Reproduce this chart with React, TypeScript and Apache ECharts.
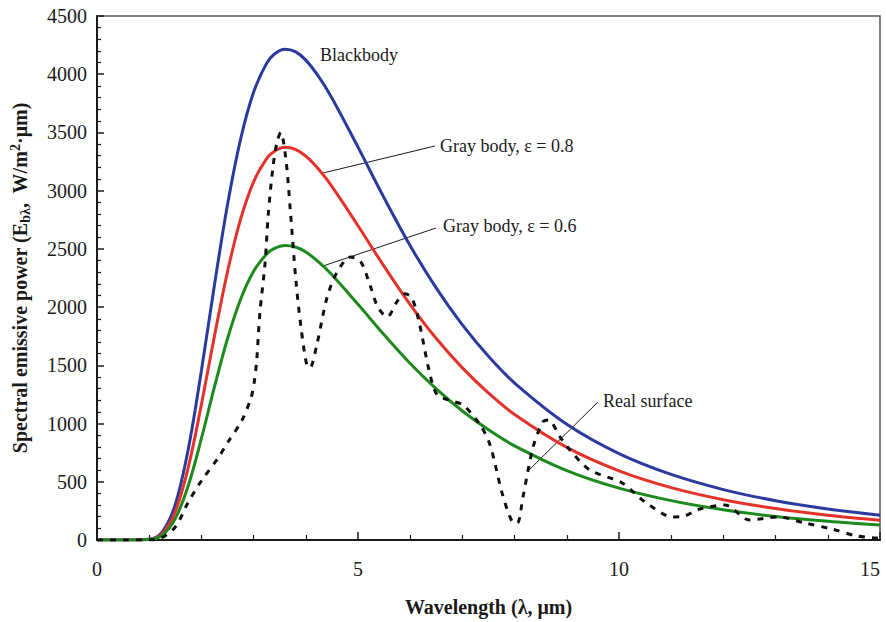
import React, { useEffect, useRef } from "react";
import * as echarts from "echarts";

// Wavelength grid (µm) for the smooth curves
const lambda = [0, 0.5, 1, 1.25, 1.5, 1.75, 2, 2.25, 2.5, 2.75, 3, 3.25, 3.4, 3.6, 3.8, 4, 4.25, 4.5, 5, 5.5, 6, 6.5, 7, 7.5, 8, 9, 10, 11, 12, 13, 14, 15];
const blackbody = [0, 0, 6, 69, 306, 784, 1454, 2190, 2880, 3441, 3845, 4094, 4174, 4215, 4194, 4121, 3977, 3796, 3374, 2938, 2527, 2163, 1847, 1577, 1348, 994, 742, 563, 433, 337, 266, 213];
const gray08 = [0, 0, 5, 55, 245, 627, 1163, 1752, 2304, 2753, 3076, 3275, 3339, 3372, 3355, 3297, 3182, 3037, 2699, 2350, 2022, 1730, 1478, 1262, 1078, 795, 594, 450, 346, 270, 213, 170];
const gray06 = [0, 0, 4, 41, 184, 470, 872, 1314, 1728, 2065, 2307, 2456, 2504, 2529, 2516, 2473, 2386, 2278, 2024, 1763, 1516, 1298, 1108, 946, 809, 596, 445, 338, 260, 202, 160, 128];

// Real surface (dashed)
const realX = [0, 0.5, 1.0, 1.2, 1.5, 1.74, 2.01, 2.32, 2.51, 2.78, 2.95, 3.01, 3.06, 3.12, 3.22, 3.28, 3.37, 3.45, 3.52, 3.62, 3.7, 3.81, 3.91, 4.02, 4.08, 4.21, 4.41, 4.6, 4.85, 5.05, 5.23, 5.38, 5.56, 5.75, 5.9, 6.03, 6.17, 6.36, 6.51, 6.75, 7.01, 7.34, 7.53, 7.76, 7.95, 8.05, 8.16, 8.35, 8.54, 8.65, 8.87, 9.06, 9.44, 10.06, 10.5, 11.03, 11.2, 11.55, 12.03, 12.5, 13.05, 13.56, 14.08, 14.56, 15];
const realY = [0, 0, 0, 10, 112, 318, 515, 704, 842, 1030, 1220, 1349, 1546, 1950, 2380, 2790, 3200, 3420, 3500, 3265, 2850, 2230, 1820, 1500, 1480, 1675, 2088, 2300, 2430, 2390, 2190, 2000, 1916, 2050, 2115, 2079, 1873, 1460, 1250, 1200, 1160, 988, 816, 404, 160, 145, 369, 790, 1013, 1030, 885, 773, 601, 490, 326, 198, 200, 266, 300, 172, 198, 146, 94, 34, 15];

const xTicks = [0, 5, 10, 15];
const yMax = 4500;

const SERIF = "'Liberation Serif', 'Times New Roman', serif";

export default function App() {
  const ref = useRef<HTMLDivElement>(null);
  useEffect(() => {
    if (!ref.current) return;
    const chart = echarts.init(ref.current, null, { renderer: "svg" });
    const pair = (xs: number[], ys: number[]) => xs.map((x, i) => [x, ys[i]]);
    const lineSeries = (name: string, data: number[][], color: string) => ({
      name,
      type: "line",
      data,
      smooth: 0.35,
      showSymbol: false,
      symbol: "none",
      lineStyle: { color, width: 3 },
      z: 2,
    });
    chart.setOption({
      animation: false,
      backgroundColor: "#ffffff",
      grid: {
        left: 97,
        right: 6,
        top: 16,
        bottom: 82,
        containLabel: false,
        outerBoundsMode: "none",
        show: true,
        borderColor: "#555555",
        borderWidth: 1.5,
        backgroundColor: "transparent",
      },
      xAxis: {
        type: "value",
        min: 0,
        max: 15,
        interval: 5,
        name: "Wavelength (λ, μm)",
        nameLocation: "middle",
        nameGap: 57,
        nameTextStyle: { fontFamily: SERIF, fontSize: 20, fontWeight: "bold", color: "#1a1a1a" },
        axisLine: { onZero: false, lineStyle: { color: "#1a1a1a", width: 2 } },
        axisTick: { inside: true, length: 8, lineStyle: { color: "#1a1a1a", width: 1.5 } },
        minorTick: { show: true, splitNumber: 5, length: 5, lineStyle: { color: "#1a1a1a", width: 1.2 } },
        splitLine: { show: false },
        axisLabel: {
          margin: 19,
          fontFamily: SERIF,
          fontSize: 20,
          color: "#1a1a1a",
          alignMaxLabel: "right",
          formatter: (v: number) => (xTicks.includes(v) ? String(v) : ""),
        },
      },
      yAxis: {
        type: "value",
        min: 0,
        max: yMax,
        interval: 500,
        name: "{a|Spectral emissive power (E}{s|bλ}{a|,  W/m}{p|2}{a|·μm)}",
        nameLocation: "middle",
        nameGap: 66,
        nameRotate: 90,
        nameTextStyle: {
          fontFamily: SERIF,
          fontSize: 20,
          fontWeight: "bold",
          color: "#1a1a1a",
          rich: {
            a: { fontFamily: SERIF, fontSize: 20, fontWeight: "bold", color: "#1a1a1a", lineHeight: 22 },
            s: { fontFamily: SERIF, fontSize: 14, fontWeight: "bold", color: "#1a1a1a", padding: [11, 0, 0, 0], lineHeight: 22 },
            p: { fontFamily: SERIF, fontSize: 14, fontWeight: "bold", color: "#1a1a1a", padding: [0, 0, 9, 0], lineHeight: 22 },
          },
        },
        axisLine: { show: true, lineStyle: { color: "#1a1a1a", width: 2 } },
        axisTick: { inside: true, length: 7, lineStyle: { color: "#1a1a1a", width: 1.5 } },
        minorTick: { show: true, splitNumber: 5, length: 4, lineStyle: { color: "#1a1a1a", width: 1.2 } },
        splitLine: { show: false },
        axisLabel: { margin: 10, fontFamily: SERIF, fontSize: 20, color: "#1a1a1a", formatter: (v: number) => String(v) },
      },
      series: [
        lineSeries("Blackbody", pair(lambda, blackbody), "#2b3a9e"),
        lineSeries("Gray body, ε = 0.8", pair(lambda, gray08), "#e2322a"),
        lineSeries("Gray body, ε = 0.6", pair(lambda, gray06), "#1c8a1c"),
        {
          name: "Real surface",
          type: "line",
          data: pair(realX, realY),
          smooth: 0.3,
          showSymbol: false,
          symbol: "none",
          lineStyle: { color: "#111111", width: 3, type: [6, 7] },
          z: 3,
        },
      ],
      graphic: [
        { type: "text", left: 320, top: 46, style: { text: "Blackbody", fontFamily: SERIF, fontSize: 18, fill: "#1a1a1a" } },
        { type: "text", left: 440, top: 137, style: { text: "Gray body, ε = 0.8", fontFamily: SERIF, fontSize: 18, fill: "#1a1a1a" } },
        { type: "line", shape: { x1: 435, y1: 146, x2: 323, y2: 173 }, style: { stroke: "#1a1a1a", lineWidth: 1 } },
        { type: "text", left: 443, top: 217, style: { text: "Gray body, ε = 0.6", fontFamily: SERIF, fontSize: 18, fill: "#1a1a1a" } },
        { type: "line", shape: { x1: 436, y1: 228, x2: 323, y2: 266 }, style: { stroke: "#1a1a1a", lineWidth: 1 } },
        { type: "text", left: 603, top: 392, style: { text: "Real surface", fontFamily: SERIF, fontSize: 18, fill: "#1a1a1a" } },
        { type: "line", shape: { x1: 598, y1: 402, x2: 529, y2: 470 }, style: { stroke: "#1a1a1a", lineWidth: 1 } },
      ],
    });
    return () => chart.dispose();
  }, []);
  return (
    <div
      ref={ref}
      style={{ position: "fixed", left: 0, top: 0, width: 886, height: 622, background: "#fff" }}
    />
  );
}
